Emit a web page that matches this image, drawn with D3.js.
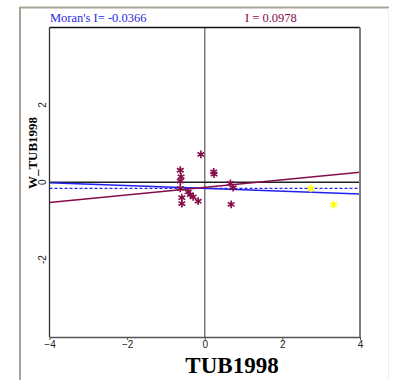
<!DOCTYPE html>
<html>
<head>
<meta charset="utf-8">
<script src="https://cdn.jsdelivr.net/npm/d3@7"></script>
<style>
  body { margin: 0; background: #fff; }
  svg { display: block; }
  text { font-family: "Liberation Serif", "Times New Roman", serif; }
</style>
</head>
<body>
<div id="chart"></div>
<script>
// values
var tubX = [-0.10, 0.23, 0.24, -0.63, -0.61, -0.63, -0.63, -0.43, -0.37, -0.30, -0.59, -0.59, -0.17, 0.66, 0.73, 0.68];
var tubW = [0.72, 0.27, 0.21, 0.31, 0.14, 0.03, -0.16, -0.25, -0.32, -0.38, -0.40, -0.55, -0.49, -0.03, -0.14, -0.57];
var hiX = [2.73, 3.32];
var hiW = [-0.16, -0.58];
var globalI = -0.0366, globalB = -0.157;   // blue fit
var localI = 0.0978, localB = -0.13;       // maroon fit
var meanW = -0.16;                          // dashed line
var xTicks = [-4, -2, 0, 2, 4];
var yTicks = [-2, 0, 2];

var width = 395, height = 380;
var maroon = '#850c48';

var svg = d3.select('#chart').append('svg')
    .attr('width', width)
    .attr('height', height);

// outer frame
svg.append('line').attr('x1', 20).attr('x2', 20).attr('y1', 7).attr('y2', height)
    .attr('stroke', '#a7a396').attr('stroke-width', 2);
svg.append('line').attr('x1', 20).attr('x2', 389).attr('y1', 7.5).attr('y2', 7.5)
    .attr('stroke', '#a7a396').attr('stroke-width', 2);
svg.append('line').attr('x1', 388.5).attr('x2', 388.5).attr('y1', 8).attr('y2', height)
    .attr('stroke', '#f3efdd').attr('stroke-width', 1);

var x = d3.scaleLinear().domain([-4, 4]).range([49.5, 360]);
var y = d3.scaleLinear().domain([-4, 4]).range([337, 27.5]);

svg.append('clipPath').attr('id', 'plotClip')
  .append('rect')
    .attr('x', x(-4)).attr('y', y(4))
    .attr('width', x(4) - x(-4)).attr('height', y(-4) - y(4));

var plot = svg.append('g').attr('clip-path', 'url(#plotClip)');

// quadrant lines
plot.append('line')
    .attr('x1', x(0)).attr('x2', x(0)).attr('y1', y(4)).attr('y2', y(-4))
    .attr('stroke', '#7a7a7a').attr('stroke-width', 1.5);
plot.append('line')
    .attr('x1', x(-4)).attr('x2', x(4)).attr('y1', y(0)).attr('y2', y(0))
    .attr('stroke', '#222').attr('stroke-width', 1.3);

// fitted lines
function fitLine(slope, b) {
    return [[-4, b - 4 * slope], [4, b + 4 * slope]];
}
var line = d3.line().x(function(d) { return x(d[0]); }).y(function(d) { return y(d[1]); });

plot.append('path').datum(fitLine(0, meanW))
    .attr('d', line).attr('fill', 'none')
    .attr('stroke', '#2525f0').attr('stroke-width', 1.3).attr('stroke-dasharray', '3,2');
plot.append('path').datum(fitLine(globalI, globalB))
    .attr('d', line).attr('fill', 'none')
    .attr('stroke', '#2020ee').attr('stroke-width', 1.5);
plot.append('path').datum(fitLine(localI, localB))
    .attr('d', line).attr('fill', 'none')
    .attr('stroke', maroon).attr('stroke-width', 1.5);

// points
var star = d3.symbol().type(d3.symbolAsterisk).size(42);
var pts = tubX.map(function(v, i) { return [v, tubW[i]]; });
var hiPts = hiX.map(function(v, i) { return [v, hiW[i]]; });

plot.selectAll('.pt').data(pts).enter().append('path')
    .attr('class', 'pt')
    .attr('transform', function(d) { return 'translate(' + x(d[0]) + ',' + y(d[1]) + ')'; })
    .attr('d', star)
    .attr('fill', 'none')
    .attr('stroke', maroon)
    .attr('stroke-width', 1.6);

plot.selectAll('.hi').data(hiPts).enter().append('path')
    .attr('class', 'hi')
    .attr('transform', function(d) { return 'translate(' + x(d[0]) + ',' + y(d[1]) + ')'; })
    .attr('d', star)
    .attr('fill', 'none')
    .attr('stroke', '#ffff00')
    .attr('stroke-width', 1.6);

// plot border
svg.append('line').attr('x1', x(-4)).attr('x2', x(4)).attr('y1', y(4)).attr('y2', y(4))
    .attr('stroke', '#111').attr('stroke-width', 1.3);
svg.append('line').attr('x1', x(-4)).attr('x2', x(-4)).attr('y1', y(4)).attr('y2', y(-4))
    .attr('stroke', '#333').attr('stroke-width', 1.3);
svg.append('line').attr('x1', x(4)).attr('x2', x(4)).attr('y1', y(4)).attr('y2', y(-4))
    .attr('stroke', '#808080').attr('stroke-width', 2);

// x axis
var xAxis = svg.append('g')
    .attr('transform', 'translate(0,' + y(-4) + ')')
    .call(d3.axisBottom(x).tickValues(xTicks).tickSize(3).tickSizeOuter(0).tickPadding(1));
xAxis.select('.domain').attr('stroke', '#555').attr('stroke-width', 1.5);
xAxis.selectAll('.tick line').attr('stroke', '#555');
xAxis.selectAll('.tick text')
    .style('font-family', '"Liberation Sans", Arial, sans-serif')
    .style('font-size', '10px').attr('fill', '#222');

// y tick labels (rotated, no tick marks)
svg.selectAll('.ylab').data(yTicks).enter().append('text')
    .attr('class', 'ylab')
    .attr('transform', function(d) { return 'translate(46,' + y(d) + ') rotate(-90)'; })
    .attr('text-anchor', 'middle')
    .style('font-family', '"Liberation Sans", Arial, sans-serif')
    .style('font-size', '10px').attr('fill', '#222')
    .text(function(d) { return d; });

// titles
svg.append('text').attr('x', 50).attr('y', 22)
    .style('font-size', '12.5px').attr('fill', '#2a2ae0')
    .text("Moran's I= " + globalI.toFixed(4));
svg.append('text').attr('x', 245).attr('y', 22)
    .style('font-size', '12.5px').attr('fill', maroon)
    .text('I = ' + localI.toFixed(4));

// axis titles
svg.append('text')
    .attr('x', 232).attr('y', 373)
    .attr('text-anchor', 'middle')
    .style('font-size', '23px').style('font-weight', 'bold')
    .text('TUB1998');
svg.append('text')
    .attr('transform', 'translate(37,153) rotate(-90)')
    .attr('text-anchor', 'middle')
    .style('font-size', '13px').style('font-weight', 'bold')
    .text('W_TUB1998');
</script>
</body>
</html>
